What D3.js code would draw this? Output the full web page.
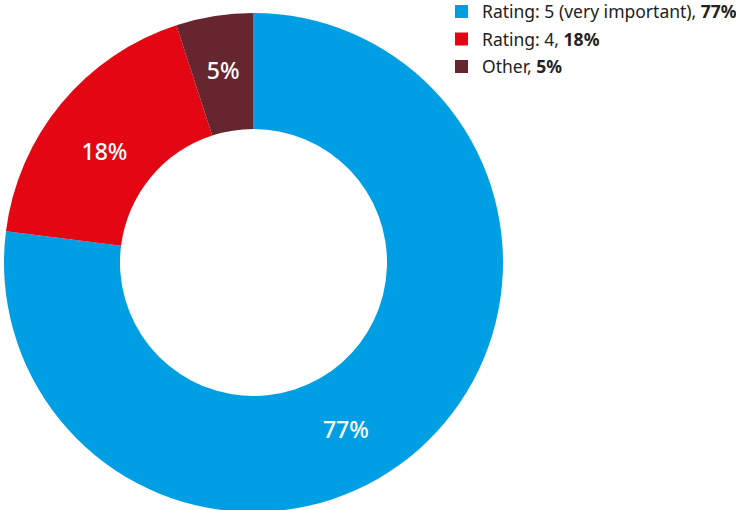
<!DOCTYPE html>
<html>
<head>
<meta charset="utf-8">
<script src="https://cdn.jsdelivr.net/npm/d3@7"></script>
<style>
  body { margin: 0; background: #fff; }
  svg { display: block; font-family: "Noto Sans", "Open Sans", sans-serif; }
</style>
</head>
<body>
<div id="chart"></div>
<script>
// dane
const categories = ["Rating: 5 (very important)", "Rating: 4", "Other"];
const values = [77, 18, 5];
const colors = ["#009fe3", "#e30613", "#662630"];

const width = 736;
const height = 510;

const svg = d3.select("#chart")
  .append("svg")
  .attr("width", width)
  .attr("height", height);

const cx = 253.5, cy = 262.5;
const outerR = 249.5, innerR = 133.5;

const pie = d3.pie().sort(null).value(d => d);
const arcs = pie(values);

const arc = d3.arc().innerRadius(innerR).outerRadius(outerR);

const g = svg.append("g").attr("transform", `translate(${cx},${cy})`);

g.selectAll("path")
  .data(arcs)
  .join("path")
  .attr("d", arc)
  .attr("fill", (d, i) => colors[i]);

// etykiety - duzy wycinek ma etykiete przesunieta w strone dolu
const labelR = 191;
g.selectAll("text")
  .data(arcs)
  .join("text")
  .attr("transform", (d, i) => {
    let a = (d.startAngle + d.endAngle) / 2;
    let r = labelR;
    if (d.endAngle - d.startAngle > Math.PI) a = d.startAngle + (d.endAngle - d.startAngle) * 0.545;
    else if (d.endAngle - d.startAngle > 0.5) { a -= 0.05; r -= 5; }
    else r += 3;
    return `translate(${r * Math.sin(a)},${-r * Math.cos(a)})`;
  })
  .attr("text-anchor", "middle")
  .attr("dy", "0.36em")
  .attr("fill", "#fff")
  .attr("font-size", 23)
  .attr("font-weight", 500)
  .text(d => d.data + "%");

// legenda
const legend = svg.append("g").attr("transform", "translate(455,5)");
const rows = legend.selectAll("g")
  .data(categories)
  .join("g")
  .attr("transform", (d, i) => `translate(0,${i * 27.5})`);

rows.append("rect")
  .attr("width", 13)
  .attr("height", 13)
  .attr("fill", (d, i) => colors[i]);

const txt = rows.append("text")
  .attr("x", 27)
  .attr("y", 7)
  .attr("dy", "0.36em")
  .attr("font-size", 17.5)
  .attr("fill", "#222");
txt.append("tspan").text(d => d + ", ");
txt.append("tspan").attr("font-weight", 700).text((d, i) => values[i] + "%");
</script>
</body>
</html>
